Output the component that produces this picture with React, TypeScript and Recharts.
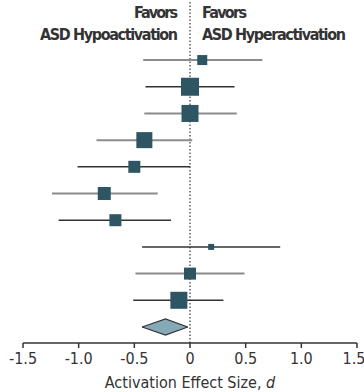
import { ComposedChart, XAxis, YAxis, Scatter, Area, ReferenceLine } from 'recharts';

// study rows, top to bottom
const estimates = [0.11, 0.0, 0.0, -0.41, -0.5, -0.77, -0.67, 0.19, 0.0, -0.1];
const lowerCI = [-0.42, -0.4, -0.41, -0.84, -1.01, -1.24, -1.18, -0.43, -0.49, -0.51];
const upperCI = [0.65, 0.4, 0.42, 0.02, 0.0, -0.29, -0.17, 0.81, 0.49, 0.3];
const weights = [10, 18, 17, 16, 12, 13, 12, 6, 12, 17];
const lineTone = ['gray', 'dark', 'gray', 'gray', 'dark', 'gray', 'dark', 'dark', 'gray', 'dark'];

// pooled estimate
const pooledLow = -0.43;
const pooled = -0.22;
const pooledHigh = -0.02;

const xTicks = [-1.5, -1.0, -0.5, 0, 0.5, 1.0, 1.5];

const FONT = '"Liberation Sans Narrow", "Arial Narrow", "DejaVu Sans Condensed", sans-serif';
const SQUARE = '#2d5563';

const studies = estimates.map((x, i) => ({ x, y: i + 1, w: weights[i] }));
const pooledRow = estimates.length + 1;
const diamond = [
  { x: pooledLow, band: [pooledRow, pooledRow] },
  { x: pooled, band: [pooledRow - 0.3, pooledRow + 0.3] },
  { x: pooledHigh, band: [pooledRow, pooledRow] },
];

const SquareShape = (props: any) => {
  const { cx, cy, payload } = props;
  const s = payload.w;
  return <rect x={cx - s / 2} y={cy - s / 2} width={s} height={s} fill={SQUARE} />;
};

export default function App() {
  return (
    <div style={{ position: 'absolute', left: 0, top: 0 }}>
      <ComposedChart width={364} height={392} margin={{ top: 0, right: 7, bottom: 0, left: 23 }}>
        <XAxis
          type="number"
          dataKey="x"
          domain={[-1.5, 1.5]}
          ticks={xTicks}
          tickFormatter={(v: number) => (v === 0 ? '0' : v.toFixed(1))}
          height={49}
          tickSize={5}
          tickMargin={5}
          allowDataOverflow
          axisLine={{ stroke: '#333', strokeWidth: 1.5 }}
          tickLine={{ stroke: '#333', strokeWidth: 1.5 }}
          tick={{ fill: '#333', fontSize: 16, fontFamily: FONT }}
        />
        <YAxis type="number" dataKey="y" domain={[-1.25, 11.6]} reversed hide allowDataOverflow />
        <ReferenceLine x={0} stroke="#444" strokeWidth={1.3} strokeDasharray="1.5 2" />
        {estimates.map((_, i) => (
          <ReferenceLine
            key={`ci-${i}`}
            segment={[
              { x: lowerCI[i], y: i + 1 },
              { x: upperCI[i], y: i + 1 },
            ]}
            stroke={lineTone[i] === 'gray' ? '#8c8c8c' : '#333'}
            strokeWidth={lineTone[i] === 'gray' ? 2 : 1.5}
          />
        ))}
        <Scatter data={studies} dataKey="y" shape={SquareShape} isAnimationActive={false} />
        <Area
          data={diamond}
          dataKey="band"
          type="linear"
          fill="#86a9b7"
          fillOpacity={1}
          stroke="#333"
          strokeWidth={1.2}
          isAnimationActive={false}
        />
        <text x={178} y={18} textAnchor="end" fontFamily={FONT} fontWeight="bold" fontSize={16} fill="#333" textLength={44}>
          Favors
        </text>
        <text x={178} y={40} textAnchor="end" fontFamily={FONT} fontWeight="bold" fontSize={16} fill="#333" textLength={138}>
          ASD Hypoactivation
        </text>
        <text x={202} y={18} fontFamily={FONT} fontWeight="bold" fontSize={16} fill="#333" textLength={45}>
          Favors
        </text>
        <text x={202} y={40} fontFamily={FONT} fontWeight="bold" fontSize={16} fill="#333" textLength={144}>
          ASD Hyperactivation
        </text>
        <text x={190} y={388} textAnchor="middle" fontFamily={FONT} fontSize={16} fill="#333">
          Activation Effect Size, <tspan fontStyle="italic">d</tspan>
        </text>
      </ComposedChart>
    </div>
  );
}
